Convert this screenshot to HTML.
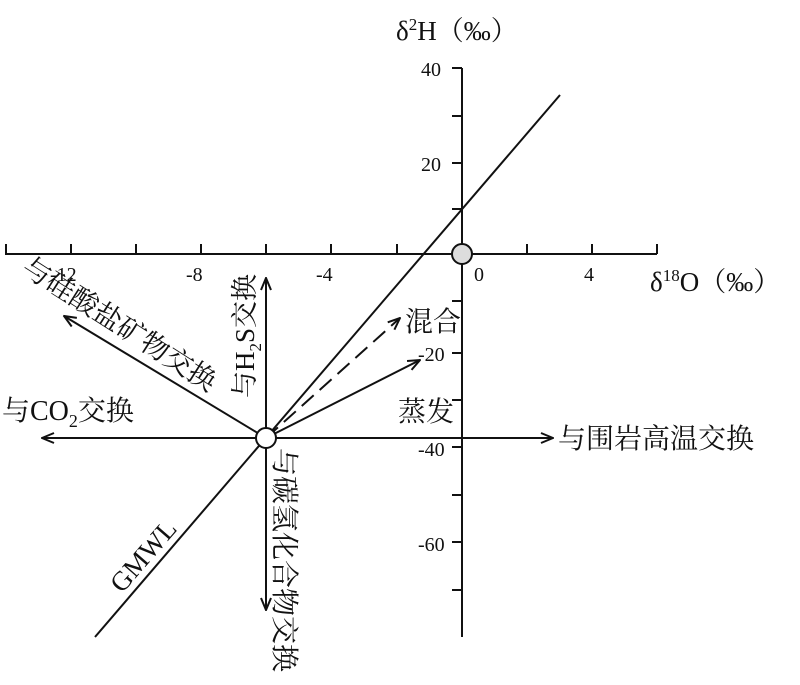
<!DOCTYPE html>
<html><head><meta charset="utf-8"><style>
body{margin:0;background:#fff}
text{font-family:"Liberation Serif","Noto Serif CJK SC",serif;fill:#111}
</style></head><body>
<svg width="800" height="680" viewBox="0 0 800 680" xmlns="http://www.w3.org/2000/svg">
<defs><marker id="a" markerWidth="14" markerHeight="12" refX="13" refY="6" orient="auto" markerUnits="userSpaceOnUse"><path d="M1,1 L13,6 L1,11" fill="none" stroke="#111" stroke-width="2"/></marker></defs>
<g stroke="#111" stroke-width="2" fill="none">
<line x1="5" y1="254" x2="657" y2="254"/>
<line x1="462" y1="68" x2="462" y2="637"/>
<path d="M6,254v-10M71,254v-10M136,254v-10M201,254v-10M266,254v-10M331,254v-10M397,254v-10M527,254v-10M592,254v-10M657,254v-10"/>
<path d="M462,68h-10M462,116h-10M462,163h-10M462,209h-10M462,301h-10M462,353h-10M462,400h-10M462,447h-10M462,495h-10M462,542h-10M462,590h-10"/>
<line x1="95" y1="637" x2="560" y2="95"/>
<line x1="266" y1="438" x2="42" y2="438" marker-end="url(#a)"/>
<line x1="266" y1="438" x2="553" y2="438" marker-end="url(#a)"/>
<line x1="266" y1="438" x2="266" y2="278" marker-end="url(#a)"/>
<line x1="266" y1="438" x2="266" y2="610" marker-end="url(#a)"/>
<line x1="266" y1="438" x2="64" y2="316" marker-end="url(#a)"/>
<line x1="266" y1="438" x2="420" y2="360" marker-end="url(#a)"/>
<line x1="266" y1="438" x2="400" y2="318" stroke-dasharray="16,8" marker-end="url(#a)"/>
</g>
<circle cx="462" cy="254" r="10" fill="#ddd" stroke="#111" stroke-width="2"/>
<circle cx="266" cy="438" r="10" fill="#fff" stroke="#111" stroke-width="2"/>
<g font-size="20">
<text x="50" y="281">-12</text><text x="186" y="281">-8</text><text x="316" y="281">-4</text><text x="474" y="281">0</text><text x="584" y="281">4</text>
<text x="421" y="76">40</text><text x="421" y="171">20</text><text x="418" y="361">-20</text><text x="418" y="456">-40</text><text x="418" y="551">-60</text>
</g>
<text x="396" y="40" font-size="27">δ<tspan font-size="17" dy="-10">2</tspan><tspan dy="10">H（‰）</tspan></text>
<text x="650" y="291" font-size="27">δ<tspan font-size="17" dy="-10">18</tspan><tspan dy="10">O（‰）</tspan></text>
<g font-size="28">
<text x="405" y="331">混合</text>
<text x="398" y="421">蒸发</text>
<text x="558" y="448">与围岩高温交换</text>
<text x="2" y="420">与CO<tspan font-size="18" dy="7">2</tspan><tspan dy="-7">交换</tspan></text>
<text transform="translate(20,272) rotate(32.5)">与硅酸盐矿物交换</text>
<text transform="translate(254,398) rotate(-90)" font-size="27">与H<tspan font-size="17" dy="7">2</tspan><tspan dy="-7">S交换</tspan></text>
<text transform="translate(275,448) rotate(90)">与碳氢化合物交换</text>
<text transform="translate(122,594) rotate(-49)" font-size="27">GMWL</text>
</g>
</svg>
</body></html>
